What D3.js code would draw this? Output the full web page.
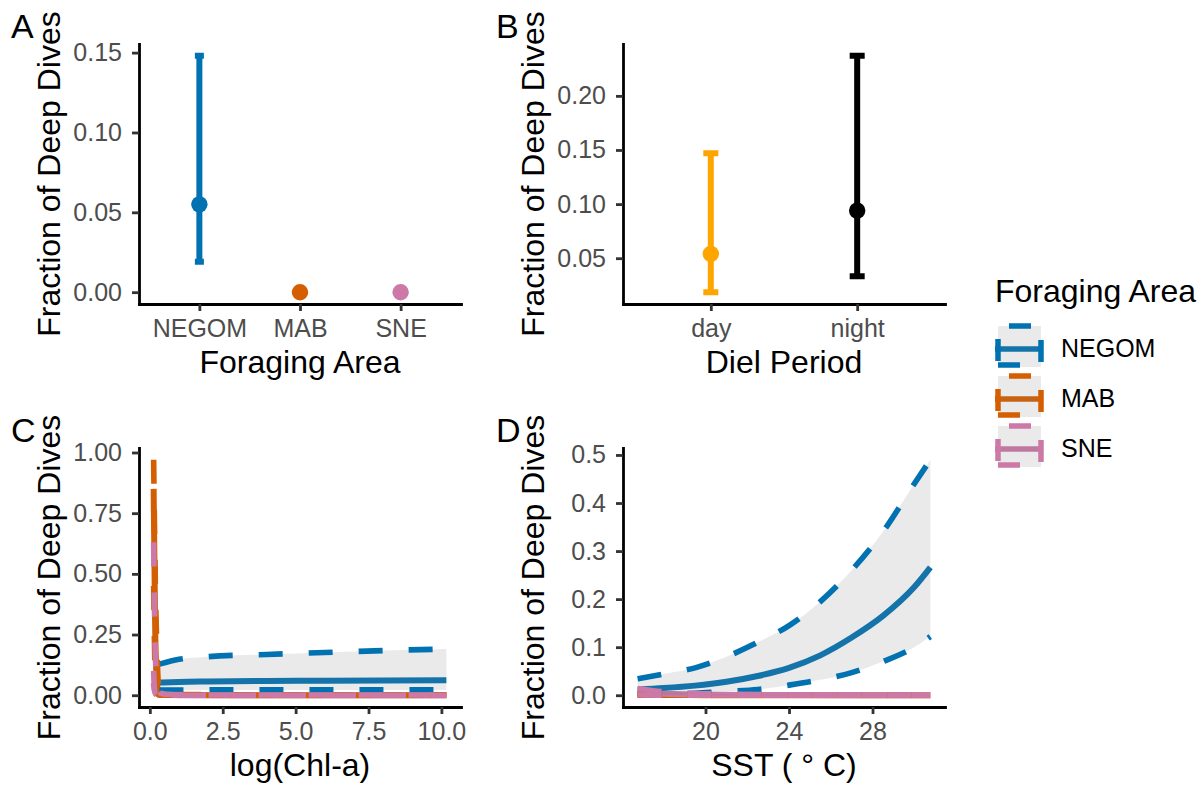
<!DOCTYPE html>
<html><head><meta charset="utf-8">
<script src="https://cdn.jsdelivr.net/npm/d3@7"></script>
<style>
body{margin:0;background:#fff;}
svg text{font-family:"Liberation Sans",Arial,sans-serif;}
</style></head><body>
<svg id="chart" width="1204" height="787"></svg>
<script>
// ---------- Panel A: foraging area ----------
const areas = ["NEGOM", "MAB", "SNE"];
const areaFit = [0.055, 0, 0];
const areaLower = [0.019, 0, 0];
const areaUpper = [0.148, 0, 0];

// ---------- Panel B: diel period ----------
const periods = ["day", "night"];
const periodFit = [0.054, 0.094];
const periodLower = [0.0186, 0.0334];
const periodUpper = [0.147, 0.237];

// ---------- Panel C: log(Chl-a) ----------
const chlNegomX = [0.33, 1, 2, 4, 6, 8, 10.17];
const chlNegomFit = [0.052, 0.055, 0.057, 0.059, 0.060, 0.061, 0.062];
const chlNegomUpper = [0.128, 0.148, 0.159, 0.168, 0.176, 0.184, 0.19];
const chlNegomLower = [0.021, 0.021, 0.022, 0.022, 0.022, 0.022, 0.022];

const chlMabX = [0.13, 0.18, 0.24, 0.3, 0.4, 0.6, 1, 3, 10.17];
const chlMabFit = [0.85, 0.3, 0.06, 0.012, 0.003, 0.001, 0.0005, 0.0002, 0];
const chlMabUpper = [0.97, 0.52, 0.2, 0.04, 0.008, 0.004, 0.003, 0.002, 0.002];
const chlMabLower = [0.45, 0.1, 0.01, 0.002, 0, 0, 0, 0, 0];

const chlSneX = [0.13, 0.16, 0.2, 0.25, 0.3, 0.4, 0.6, 1, 3, 10.17];
const chlSneFit = [0.05, 0.025, 0.012, 0.006, 0.003, 0.0015, 0.0008, 0.0004, 0.0001, 0];
const chlSneUpper = [0.63, 0.35, 0.13, 0.045, 0.018, 0.007, 0.004, 0.002, 0.001, 0.001];
const chlSneLower = [0.1, 0.02, 0.004, 0.001, 0, 0, 0, 0, 0, 0];

// ---------- Panel D: SST ----------
const sstNegomX = [16.75, 18, 19.5, 21, 22.5, 24, 25.5, 27, 28.5, 30, 30.77];
const sstNegomFit = [0.012, 0.015, 0.02, 0.028, 0.04, 0.057, 0.083, 0.12, 0.165, 0.225, 0.266];
const sstNegomUpper = [0.034, 0.044, 0.057, 0.08, 0.11, 0.145, 0.195, 0.26, 0.34, 0.44, 0.49];
const sstNegomLower = [0.002, 0.0025, 0.004, 0.008, 0.012, 0.021, 0.032, 0.047, 0.07, 0.1, 0.122];

const sstMabX = [16.75, 18, 20, 24, 30.77];
const sstMabFit = [0.001, 0.0005, 0.0002, 0, 0];
const sstMabUpper = [0.004, 0.002, 0.001, 0, 0];
const sstMabLower = [0, 0, 0, 0, 0];

const sstSneX = [16.75, 18, 20, 24, 30.77];
const sstSneFit = [0.007, 0.003, 0.001, 0.0003, 0];
const sstSneUpper = [0.014, 0.007, 0.003, 0.001, 0.0005];
const sstSneLower = [0.001, 0, 0, 0, 0];

// ---------- tick labels ----------
const aYTicks = [0, 0.05, 0.10, 0.15];
const bYTicks = [0.05, 0.10, 0.15, 0.20];
const cYTicks = [0, 0.25, 0.5, 0.75, 1];
const cXTicks = [0, 2.5, 5, 7.5, 10];
const dYTicks = [0, 0.1, 0.2, 0.3, 0.4, 0.5];
const dXTicks = [20, 24, 28];

const areaColors = ["#0072B2", "#D55E00", "#CC79A7"];
const periodColors = ["#FFA500", "#000000"];

// ---------- drawing ----------
const svg = d3.select("#chart");
svg.append("rect").attr("width", 1204).attr("height", 787).attr("fill", "#fff");
const FONT = '"Liberation Sans",Arial,sans-serif';
const fsTick = 25, fsTitle = 32, fsTag = 34;

function expand(lo, hi) { const d = (hi - lo) * 0.05; return [lo - d, hi + d]; }
function zip(xs, ys) { return xs.map((x, i) => [x, ys[i]]); }

function axes(box, xs, ys, o) {
  const g = svg.append("g");
  const xa = d3.axisBottom(xs).tickSize(7).tickPadding(8.5).tickSizeOuter(0);
  if (o.xTicks) xa.tickValues(o.xTicks).tickFormat(o.xFmt);
  const gx = g.append("g").attr("transform", `translate(0,${box.b})`).call(xa);
  const ya = d3.axisLeft(ys).tickValues(o.yTicks).tickFormat(o.yFmt).tickSize(7).tickPadding(10).tickSizeOuter(0);
  const gy = g.append("g").attr("transform", `translate(${box.l},0)`).call(ya);
  [gx, gy].forEach(a => {
    a.attr("font-family", FONT).attr("font-size", fsTick);
    a.select(".domain").attr("stroke", "#000").attr("stroke-width", 2.8).attr("stroke-linecap", "square");
    a.selectAll(".tick line").attr("stroke", "#333").attr("stroke-width", 2.8);
    a.selectAll(".tick text").attr("fill", "#4D4D4D");
  });
  g.append("text").attr("x", (box.l + box.r) / 2).attr("y", box.b + 69)
    .attr("text-anchor", "middle").attr("font-size", fsTitle).attr("fill", "#000").text(o.xTitle);
  g.append("text").attr("transform", `translate(${box.l - 79},${(box.t + box.b) / 2}) rotate(-90)`)
    .attr("text-anchor", "middle").attr("font-size", fsTitle).attr("fill", "#000").text("Fraction of Deep Dives");
  g.append("text").attr("x", o.tagX).attr("y", o.tagY).attr("font-size", fsTag).attr("fill", "#000").text(o.tag);
}

function errorPanel(box, cats, fit, lo, hi, cols, capW, yTicks, xTitle, tag, tagX) {
  const xs = d3.scalePoint().domain(cats).range([box.l, box.r]).padding(0.6);
  const ys = d3.scaleLinear().domain(expand(d3.min(lo), d3.max(hi))).range([box.b, box.t]);
  axes(box, xs, ys, { yTicks, yFmt: d3.format(".2f"), xTitle, tag, tagX, tagY: box.t - 6 });
  const g = svg.append("g");
  cats.forEach((c, i) => {
    const x = xs(c), y0 = ys(lo[i]), y1 = ys(hi[i]);
    g.append("path")
      .attr("d", `M${x - capW / 2},${y1}H${x + capW / 2}M${x},${y1}V${y0}M${x - capW / 2},${y0}H${x + capW / 2}`)
      .attr("stroke", cols[i]).attr("stroke-width", 6).attr("fill", "none");
    g.append("circle").attr("cx", x).attr("cy", ys(fit[i])).attr("r", 8.2).attr("fill", cols[i]);
  });
}

function curvePanel(box, series, xTicks, xFmt, yTicks, yFmt, xTitle, tag, tagX) {
  const allX = series.flatMap(s => s.x);
  const allY = series.flatMap(s => s.lo.concat(s.hi, s.fit));
  const xs = d3.scaleLinear().domain(expand(d3.min(allX), d3.max(allX))).range([box.l, box.r]);
  const ys = d3.scaleLinear().domain(expand(d3.min(allY), d3.max(allY))).range([box.b, box.t]);
  axes(box, xs, ys, { xTicks, xFmt, yTicks, yFmt, xTitle, tag, tagX, tagY: box.t - 6 });
  const g = svg.append("g");
  const line = d3.line().x(d => xs(d[0])).y(d => ys(d[1])).curve(d3.curveMonotoneX);
  const area = d3.area().x(d => xs(d[0])).y0(d => ys(d[1])).y1(d => ys(d[2])).curve(d3.curveMonotoneX);
  // fitted lines first
  series.forEach(s => {
    g.append("path").attr("d", line(zip(s.x, s.fit))).attr("fill", "none")
      .attr("stroke", s.color).attr("stroke-width", 6);
  });
  // ribbons with dashed outlines
  series.forEach(s => {
    g.append("path").attr("d", area(s.x.map((x, i) => [x, s.lo[i], s.hi[i]])))
      .attr("fill", "#7f7f7f").attr("fill-opacity", 0.16).attr("stroke", "none");
    [s.hi, s.lo].forEach(b => {
      g.append("path").attr("d", line(zip(s.x, b))).attr("fill", "none")
        .attr("stroke", s.color).attr("stroke-width", 5.6).attr("stroke-dasharray", "24,26");
    });
  });
}

const boxA = { l: 139, r: 461, t: 44, b: 304 };
const boxB = { l: 623, r: 945, t: 44, b: 304 };
const boxC = { l: 139, r: 461, t: 448, b: 707 };
const boxD = { l: 623, r: 945, t: 448, b: 707 };

errorPanel(boxA, areas, areaFit, areaLower, areaUpper, areaColors, 9, aYTicks, "Foraging Area", "A", 11);
errorPanel(boxB, periods, periodFit, periodLower, periodUpper, periodColors, 15, bYTicks, "Diel Period", "B", 496);

curvePanel(boxC, [
  { x: chlNegomX, fit: chlNegomFit, lo: chlNegomLower, hi: chlNegomUpper, color: areaColors[0] },
  { x: chlMabX, fit: chlMabFit, lo: chlMabLower, hi: chlMabUpper, color: areaColors[1] },
  { x: chlSneX, fit: chlSneFit, lo: chlSneLower, hi: chlSneUpper, color: areaColors[2] }
], cXTicks, d3.format(".1f"), cYTicks, d3.format(".2f"), "log(Chl-a)", "C", 11);

curvePanel(boxD, [
  { x: sstNegomX, fit: sstNegomFit, lo: sstNegomLower, hi: sstNegomUpper, color: areaColors[0] },
  { x: sstMabX, fit: sstMabFit, lo: sstMabLower, hi: sstMabUpper, color: areaColors[1] },
  { x: sstSneX, fit: sstSneFit, lo: sstSneLower, hi: sstSneUpper, color: areaColors[2] }
], dXTicks, d3.format("d"), dYTicks, d3.format(".1f"), "SST ( \u00B0 C)", "D", 496);

// ---------- legend ----------
const leg = svg.append("g");
leg.append("text").attr("x", 995).attr("y", 302).attr("font-size", fsTitle).attr("fill", "#000").text("Foraging Area");
areas.forEach((a, i) => {
  const y0 = 326 + 50 * i, x0 = 998, w = 43, h = 39;
  leg.append("line").attr("x1", x0 - 3).attr("x2", x0 + w + 2).attr("y1", y0 + 23).attr("y2", y0 + 23)
    .attr("stroke", areaColors[i]).attr("stroke-width", 5.5);
  leg.append("rect").attr("x", x0).attr("y", y0).attr("width", w).attr("height", h + 2)
    .attr("fill", "#7f7f7f").attr("fill-opacity", 0.16);
  leg.append("path").attr("d", `M${x0},${y0 + h}H${x0 + w}V${y0}H${x0}Z`).attr("fill", "none")
    .attr("stroke", areaColors[i]).attr("stroke-width", 5.5).attr("stroke-dasharray", "22,24");
  leg.append("text").attr("x", 1061).attr("y", y0 + 22).attr("dy", "0.35em").attr("font-size", fsTick)
    .attr("fill", "#000").text(a);
});
</script>
</body></html>
